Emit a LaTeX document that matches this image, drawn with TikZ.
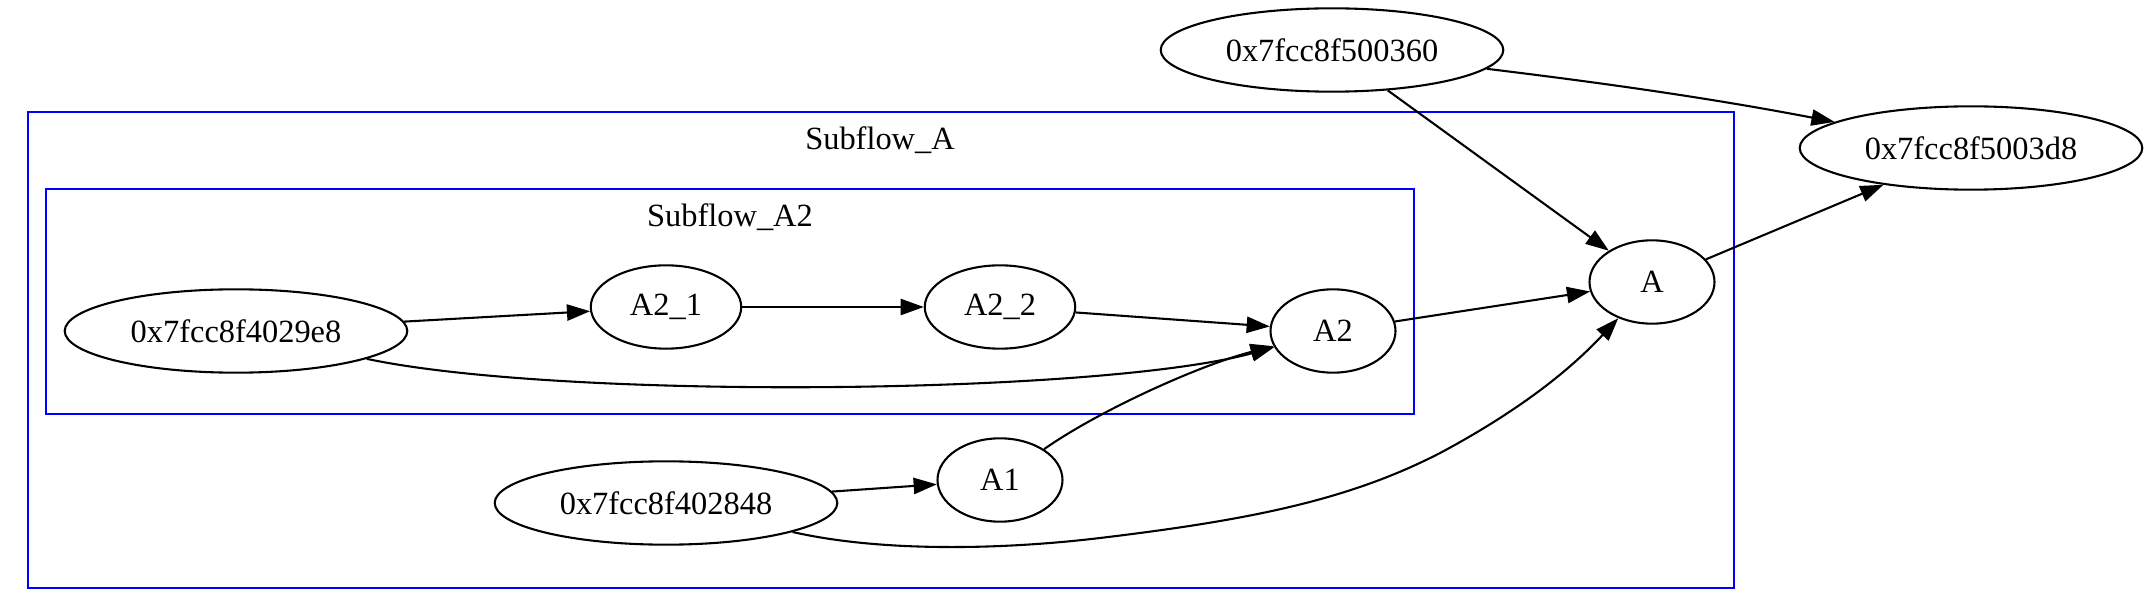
\documentclass[tikz,border=0pt]{standalone}
\usepackage{fontspec}
\setmainfont{Liberation Serif}
\usetikzlibrary{shapes.geometric,arrows.meta}
\begin{document}
\begin{tikzpicture}[x=0.432pt,y=-0.432pt,
  every node/.style={font=\fontsize{14pt}{16pt}\selectfont},
  nd/.style={draw,ellipse,line width=0.9pt,inner sep=0pt,minimum height=36pt},
  wide/.style={nd,minimum width=148pt},
  mid/.style={nd,minimum width=65pt},
  small/.style={nd,minimum width=54pt},
  edge/.style={draw,line width=0.9pt,-{Triangle[length=10pt,width=7pt]}},
  cluster/.style={draw=blue,line width=0.9pt}]
\useasboundingbox (0,0) rectangle (2156,616);
% clusters
\draw[cluster] (28,112) rectangle (1734,588);
\node (lblA) at (880,140) {Subflow\_A};
\draw[cluster] (46,189) rectangle (1414,414);
\node (lblA2) at (730,217) {Subflow\_A2};
% nodes
\node[wide] (n360) at (1332,50) {0x7fcc8f500360};
\node[wide] (n3d8) at (1971,148) {0x7fcc8f5003d8};
\node[small] (A) at (1652,282) {A};
\node[small] (A2) at (1333,331) {A2};
\node[mid] (A22) at (1000,307) {A2\_2};
\node[mid] (A21) at (666,307) {A2\_1};
\node[wide] (e8) at (236,331) {0x7fcc8f4029e8};
\node[wide] (e848) at (666,503) {0x7fcc8f402848};
\node[small] (A1) at (1000,480) {A1};
\coordinate (k1) at (1100,538);
\coordinate (k2) at (1442,452);
% edges
\draw[edge] (n360) -- (A);
\draw[edge] (n360) .. controls (1620,85) and (1720,100) .. (n3d8);
\draw[edge] (A) -- (n3d8);
\draw[edge] (A2) -- (A);
\draw[edge] (A22) -- (A2);
\draw[edge] (A21) -- (A22);
\draw[edge] (e8) -- (A21);
\draw[edge] (e8) .. controls (560,400) and (1100,395) .. (A2);
\draw[edge] (A1) .. controls (1100,410) and (1200,365) .. (A2);
\draw[edge] (e848) -- (A1);
\draw[edge] (e848) .. controls (880,552) and (1000,550) .. (k1)
  .. controls (1250,520) and (1350,500) .. (k2)
  .. controls (1520,410) and (1570,370) .. (A);
\end{tikzpicture}
\end{document}
